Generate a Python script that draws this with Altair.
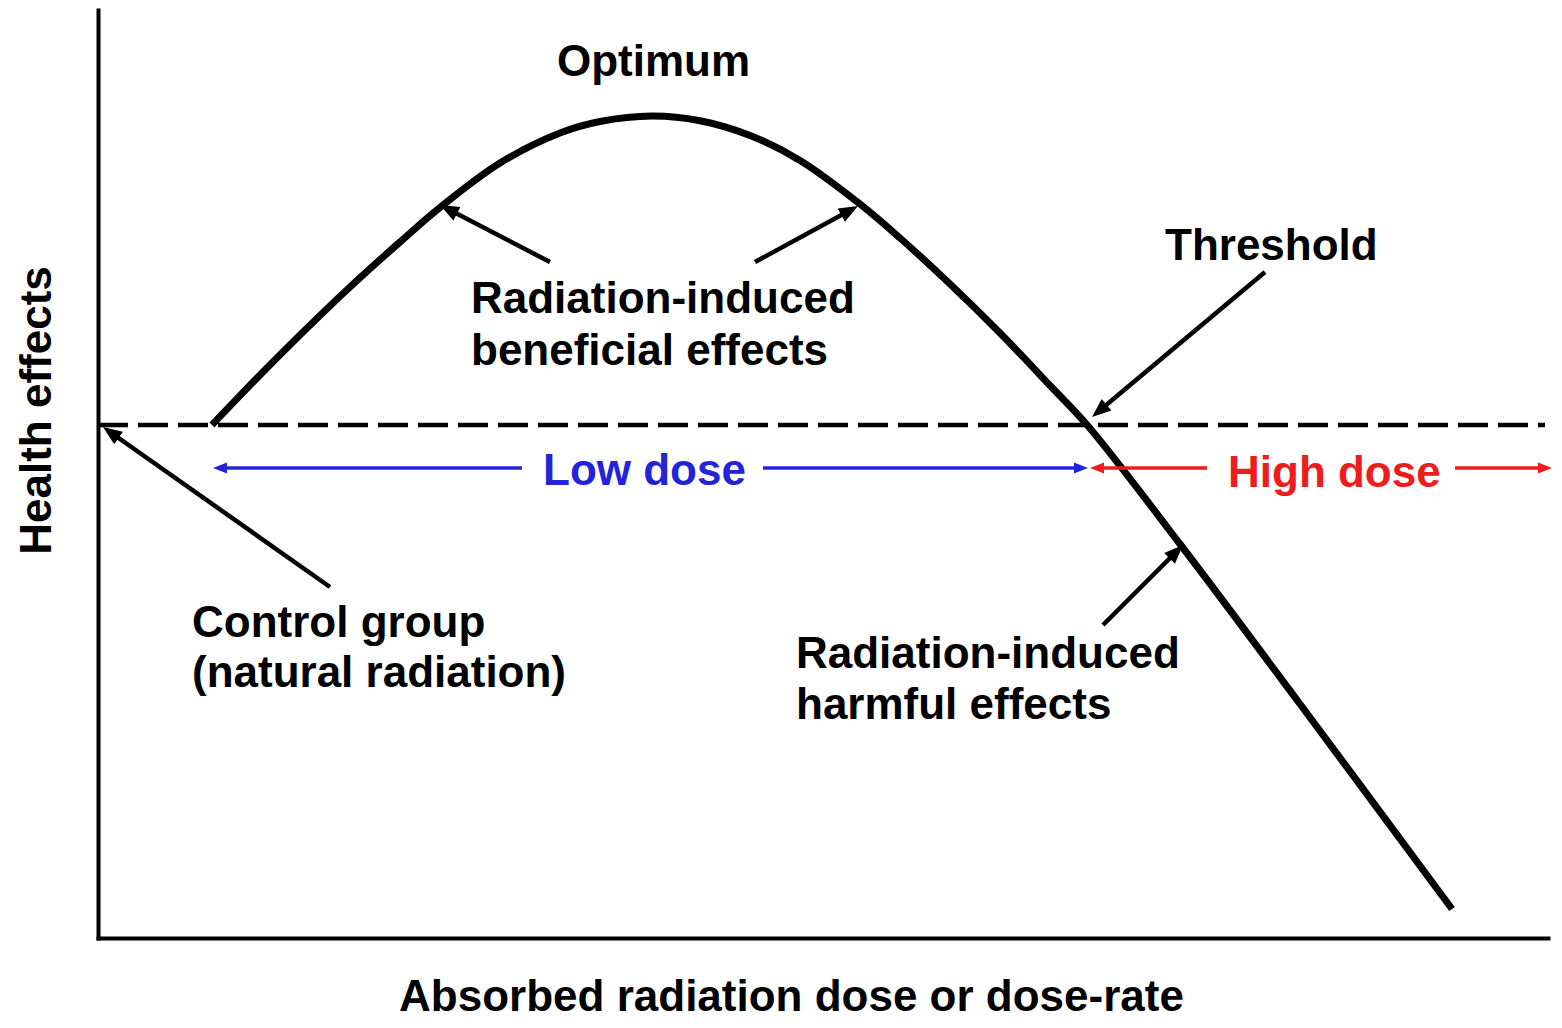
import math
import altair as alt
import pandas as pd

# ---- curve (arbitrary dose units vs. health-effect units) ----
dose = [11.4, 16.2, 20.2, 25.2, 30.2, 34.2, 40.2, 46.2, 50.2, 55.4, 60.2, 65.2,
        70.2, 76.2, 80.2, 85.2, 90.2, 95.2, 99.0, 108.2, 120.2, 135.4]
effect = [0.0, 5.0, 9.0, 13.8, 18.3, 21.75, 26.2, 29.2, 30.35, 30.9, 30.43, 28.96,
          26.46, 22.1, 18.7, 14.1, 9.2, 3.95, -0.1, -11.9, -27.9, -48.4]

# ---- control level (dashed) ----
control_x = [0.0, 144.7]
control_y = [0.0]

# ---- annotation arrows (tail -> tip) ----
black_tail_x = [23.2, 45.2, 65.7, 116.7, 100.5]
black_tail_y = [-16.2, 16.3, 16.3, 15.3, -20.0]
black_tip_x = [0.5, 34.2, 76.0, 99.4, 108.5]
black_tip_y = [-0.2, 22.0, 21.9, 0.8, -12.0]

blue_tail_x = [42.4, 66.5]
blue_tail_y = [-4.3, -4.3]
blue_tip_x = [11.5, 99.0]
blue_tip_y = [-4.3, -4.3]

red_tail_x = [110.9, 135.7]
red_tail_y = [-4.3, -4.3]
red_tip_x = [99.2, 145.4]
red_tip_y = [-4.3, -4.3]

# ---- labels ----
black_text = ["Optimum", "Radiation-induced", "beneficial effects", "Threshold",
              "Control group", "(natural radiation)", "Radiation-induced", "harmful effects"]
black_text_x = [45.9, 37.3, 37.3, 106.7, 9.4, 9.4, 69.8, 69.8]
black_text_y = [34.9, 11.2, 6.0, 16.5, -21.2, -26.2, -24.3, -29.4]
blue_text = ["Low dose"]
blue_text_x = [44.5]
blue_text_y = [-6.0]
red_text = ["High dose"]
red_text_x = [113.0]
red_text_y = [-6.2]

x_title = "Absorbed radiation dose or dose-rate"
y_title = "Health effects"

FONT = "Liberation Sans"
BLUE = "#2323d9"
RED = "#ee1c1c"

xs = alt.Scale(domain=[0, 145], nice=False, zero=False)
ys = alt.Scale(domain=[-51.3, 41.5], nice=False, zero=False)

x_axis = alt.Axis(
    title=x_title, labels=False, ticks=False, grid=False,
    domainColor="black", domainWidth=4, domainCap="square",
    titleFont=FONT, titleFontSize=44, titleFontWeight="bold", titleColor="black",
    titleX=693, titleY=72, titleAlign="center", titleBaseline="alphabetic")
y_axis = alt.Axis(
    title=y_title, labels=False, ticks=False, grid=False,
    domainColor="black", domainWidth=4, domainCap="square",
    titleFont=FONT, titleFontSize=44, titleFontWeight="bold", titleColor="black",
    titleAngle=270, titleX=-48, titleY=400, titleAlign="center",
    titleBaseline="alphabetic")


def X(field):
    return alt.X(field, type="quantitative", scale=xs, axis=x_axis)


def Y(field):
    return alt.Y(field, type="quantitative", scale=ys, axis=y_axis)


def arrows(tx, ty, hx, hy, back):
    rows = []
    for a, b, c, d in zip(tx, ty, hx, hy):
        dx, dy = c - a, d - b
        ln = math.hypot(dx, dy)
        ux, uy = dx / ln, dy / ln
        ang = math.degrees(math.atan2(dx, dy)) % 360
        rows.append(dict(x=a, y=b, x2=c - ux * back, y2=d - uy * back,
                         tx=c, ty=d, ang=ang))
    return pd.DataFrame(rows)


curve_df = pd.DataFrame({"dose": dose, "effect": effect})
ctrl_df = pd.DataFrame({"x": [control_x[0]], "x2": [control_x[1]], "y": control_y})
blk = arrows(black_tail_x, black_tail_y, black_tip_x, black_tip_y, 1.0)
blu = arrows(blue_tail_x, blue_tail_y, blue_tip_x, blue_tip_y, 0.7)
rd = arrows(red_tail_x, red_tail_y, red_tip_x, red_tip_y, 0.7)

curve = alt.Chart(curve_df).mark_line(
    color="black", strokeWidth=7, interpolate="catmull-rom", clip=False
).encode(
    x=X("dose"), y=Y("effect"), order=alt.Order("dose:Q"),
)

ctrl = alt.Chart(ctrl_df).mark_rule(color="black", strokeWidth=4.5, strokeDash=[30, 10]).encode(
    x=X("x"), x2="x2:Q", y=Y("y"),
)


def arrow_layers(df, color, width, size):
    shaft = alt.Chart(df).mark_rule(color=color, strokeWidth=width).encode(
        x=X("x"), x2="x2:Q", y=Y("y"), y2="y2:Q",
    )
    head = alt.Chart(df).mark_point(
        shape="M0,0L-0.8,2L0.8,2Z", filled=True, color=color, opacity=1,
        strokeWidth=0, size=size, clip=False,
    ).encode(
        x=X("tx"), y=Y("ty"),
        angle=alt.Angle("ang:Q", scale=None),
    )
    return [shaft, head]


def text_layer(texts, tx, ty, color, align="left"):
    df = pd.DataFrame({"t": texts, "x": tx, "y": ty})
    return alt.Chart(df).mark_text(
        font=FONT, fontSize=44, fontWeight="bold", color=color,
        align=align, baseline="alphabetic",
    ).encode(
        x=X("x"), y=Y("y"), text="t:N",
    )


layers = [curve, ctrl]
layers += arrow_layers(blk, "black", 4.5, 361)
layers += arrow_layers(blu, BLUE, 3.5, 196)
layers += arrow_layers(rd, RED, 3.5, 196)
layers += [
    text_layer(black_text, black_text_x, black_text_y, "black"),
    text_layer(blue_text, blue_text_x, blue_text_y, BLUE),
    text_layer(red_text, red_text_x, red_text_y, RED),
]

chart = alt.layer(*layers).properties(
    width=1450, height=928,
    padding={"left": 90, "top": 2, "right": 4, "bottom": 82},
    autosize=alt.AutoSizeParams(type="none"),
    background="white",
).configure_view(strokeWidth=0)

chart.save("out.html", embed_options={"renderer": "svg", "actions": False})
